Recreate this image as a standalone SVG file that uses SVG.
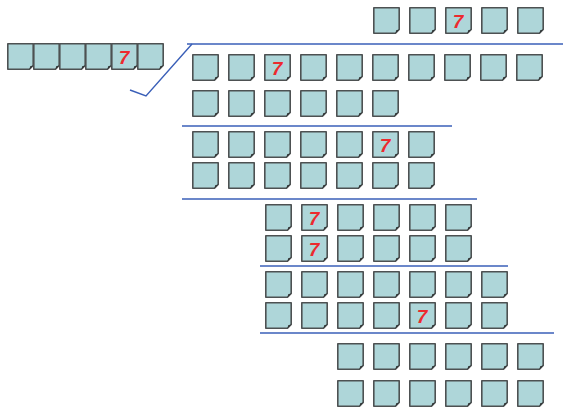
<svg xmlns="http://www.w3.org/2000/svg" xmlns:xlink="http://www.w3.org/1999/xlink" width="564" height="415" viewBox="0 0 564 415">
<style>
.t{fill:#aed6d9;stroke:#4d5152;stroke-width:1.6;stroke-linejoin:round}
.f{fill:#2e3233}
.n{font-family:"Liberation Sans",Arial,sans-serif;font-weight:bold;font-style:italic;font-size:19px;fill:#ec2a2e;text-anchor:middle}
.l{stroke:#3a5fb8;stroke-width:1.4;fill:none}
</style>
<defs>
<g id="tile">
<path class="t" d="M0.8,0.8 H26.2 V22.5 L22.5,26.2 H0.8 Z"/>
<path class="f" d="M26.2,22.5 L22.5,26.2 L23.2,23.2 Z"/>
</g>
</defs>
<rect width="564" height="415" fill="#fff"/>
<g id="connectors">
<path class="l" d="M187,44 H563"/>
<path class="l" d="M192,44 L146,96 L130,90"/>
<path class="l" d="M182,126 H452"/>
<path class="l" d="M182,199 H477"/>
<path class="l" d="M260,266 H508"/>
<path class="l" d="M260,333 H554"/>
</g>
<g id="divisor">
<use xlink:href="#tile" x="7" y="43"/><use xlink:href="#tile" x="33" y="43"/><use xlink:href="#tile" x="59" y="43"/><use xlink:href="#tile" x="85" y="43"/><use xlink:href="#tile" x="111" y="43"/><use xlink:href="#tile" x="137" y="43"/>
<text class="n" x="124" y="64">7</text>
</g>
<g id="quotient">
<use xlink:href="#tile" x="373" y="7"/><use xlink:href="#tile" x="409" y="7"/><use xlink:href="#tile" x="445" y="7"/><use xlink:href="#tile" x="481" y="7"/><use xlink:href="#tile" x="517" y="7"/>
<text class="n" x="458" y="28">7</text>
</g>
<g id="dividend">
<use xlink:href="#tile" x="192" y="54"/><use xlink:href="#tile" x="228" y="54"/><use xlink:href="#tile" x="264" y="54"/><use xlink:href="#tile" x="300" y="54"/><use xlink:href="#tile" x="336" y="54"/><use xlink:href="#tile" x="372" y="54"/><use xlink:href="#tile" x="408" y="54"/><use xlink:href="#tile" x="444" y="54"/><use xlink:href="#tile" x="480" y="54"/><use xlink:href="#tile" x="516" y="54"/>
<text class="n" x="277" y="75">7</text>
<use xlink:href="#tile" x="192" y="90"/><use xlink:href="#tile" x="228" y="90"/><use xlink:href="#tile" x="264" y="90"/><use xlink:href="#tile" x="300" y="90"/><use xlink:href="#tile" x="336" y="90"/><use xlink:href="#tile" x="372" y="90"/>
</g>
<g id="step1">
<use xlink:href="#tile" x="192" y="131"/><use xlink:href="#tile" x="228" y="131"/><use xlink:href="#tile" x="264" y="131"/><use xlink:href="#tile" x="300" y="131"/><use xlink:href="#tile" x="336" y="131"/><use xlink:href="#tile" x="372" y="131"/><use xlink:href="#tile" x="408" y="131"/>
<text class="n" x="385" y="152">7</text>
<use xlink:href="#tile" x="192" y="162"/><use xlink:href="#tile" x="228" y="162"/><use xlink:href="#tile" x="264" y="162"/><use xlink:href="#tile" x="300" y="162"/><use xlink:href="#tile" x="336" y="162"/><use xlink:href="#tile" x="372" y="162"/><use xlink:href="#tile" x="408" y="162"/>
</g>
<g id="step2">
<use xlink:href="#tile" x="265" y="204"/><use xlink:href="#tile" x="301" y="204"/><use xlink:href="#tile" x="337" y="204"/><use xlink:href="#tile" x="373" y="204"/><use xlink:href="#tile" x="409" y="204"/><use xlink:href="#tile" x="445" y="204"/>
<text class="n" x="314" y="225">7</text>
<use xlink:href="#tile" x="265" y="235"/><use xlink:href="#tile" x="301" y="235"/><use xlink:href="#tile" x="337" y="235"/><use xlink:href="#tile" x="373" y="235"/><use xlink:href="#tile" x="409" y="235"/><use xlink:href="#tile" x="445" y="235"/>
<text class="n" x="314" y="256">7</text>
</g>
<g id="step3">
<use xlink:href="#tile" x="265" y="271"/><use xlink:href="#tile" x="301" y="271"/><use xlink:href="#tile" x="337" y="271"/><use xlink:href="#tile" x="373" y="271"/><use xlink:href="#tile" x="409" y="271"/><use xlink:href="#tile" x="445" y="271"/><use xlink:href="#tile" x="481" y="271"/>
<use xlink:href="#tile" x="265" y="302"/><use xlink:href="#tile" x="301" y="302"/><use xlink:href="#tile" x="337" y="302"/><use xlink:href="#tile" x="373" y="302"/><use xlink:href="#tile" x="409" y="302"/><use xlink:href="#tile" x="445" y="302"/><use xlink:href="#tile" x="481" y="302"/>
<text class="n" x="422" y="323">7</text>
</g>
<g id="step4">
<use xlink:href="#tile" x="337" y="343"/><use xlink:href="#tile" x="373" y="343"/><use xlink:href="#tile" x="409" y="343"/><use xlink:href="#tile" x="445" y="343"/><use xlink:href="#tile" x="481" y="343"/><use xlink:href="#tile" x="517" y="343"/>
<use xlink:href="#tile" x="337" y="380"/><use xlink:href="#tile" x="373" y="380"/><use xlink:href="#tile" x="409" y="380"/><use xlink:href="#tile" x="445" y="380"/><use xlink:href="#tile" x="481" y="380"/><use xlink:href="#tile" x="517" y="380"/>
</g>
</svg>
